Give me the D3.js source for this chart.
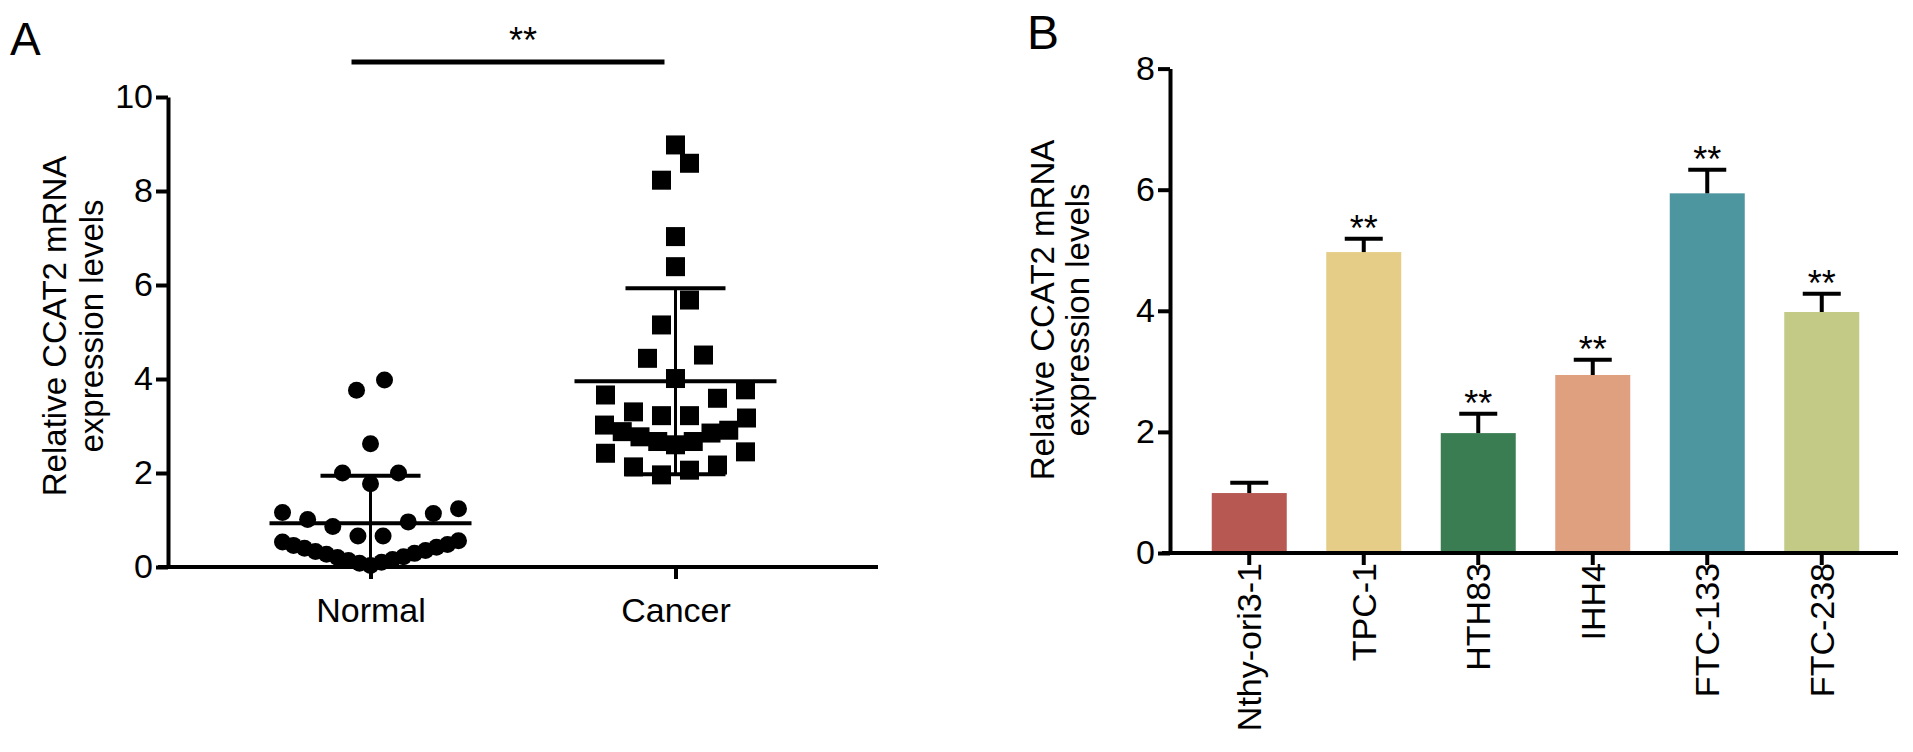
<!DOCTYPE html>
<html>
<head>
<meta charset="utf-8">
<script src="https://cdn.jsdelivr.net/npm/d3@7"></script>
<style>
  body { margin: 0; background: #fff; }
  svg { display: block; font-family: "Liberation Sans", Arial, Helvetica, sans-serif; }
</style>
</head>
<body>
<svg id="drawing_region"></svg>
<script>
// ---- panel A: individual samples (relative CCAT2 expression)
const groupNames = ["Normal", "Cancer"];
const normalValues = [0.03, 0.08, 0.10, 0.14, 0.16, 0.20, 0.22, 0.27, 0.29, 0.33, 0.35, 0.40, 0.42, 0.46, 0.48, 0.53, 0.56,
                      0.66, 0.66, 0.86, 0.96, 1.01, 1.14, 1.16, 1.24,
                      1.77, 2.00, 2.00, 2.62, 3.76, 3.98];
const cancerValues = [1.96, 2.06, 2.13, 2.17, 2.42, 2.45,
                      2.60, 2.67, 2.67, 2.77, 2.85, 2.88, 2.91, 3.02, 3.17,
                      3.22, 3.22, 3.30, 3.59, 3.66, 3.77,
                      4.01, 4.44, 4.51, 5.15, 5.68, 6.39, 7.03, 8.23, 8.59, 8.98];
const ticksA = [0, 2, 4, 6, 8, 10];

// ---- panel B: cell lines, mean + error
const cellLines = ["Nthy-ori3-1", "TPC-1", "HTH83", "IHH4", "FTC-133", "FTC-238"];
const cellMeans = [0.99, 4.97, 1.98, 2.94, 5.94, 3.98];
const cellErrors = [0.17, 0.22, 0.32, 0.25, 0.39, 0.30];
const cellMarks = ["", "**", "**", "**", "**", "**"];
const ticksB = [0, 2, 4, 6, 8];

const cellColors = ["#b75852", "#e5cd87", "#3a7d52", "#dfa07f", "#4d96a0", "#c2ca86"];

const W = 1913, H = 752;
const FONT = 34;

const svg = d3.select("#drawing_region")
    .attr("width", W)
    .attr("height", H);

// prism-like scatter: values are grouped into rows, each row spread sideways
function spreadRows(values, rowSpan, spacing, maxHalf) {
    const sorted = values.slice().sort(d3.ascending);
    const rows = [];
    sorted.forEach(v => {
        const row = rows[rows.length - 1];
        if (row && v - row[0] <= rowSpan) row.push(v);
        else rows.push([v]);
    });
    const out = [];
    rows.forEach(row => {
        const n = row.length;
        const step = n > 1 ? Math.min(spacing, 2 * maxHalf / (n - 1)) : 0;
        row.forEach((v, i) => {
            let slot;
            if (n % 2) {
                const k = Math.ceil(i / 2);
                slot = i === 0 ? 0 : (i % 2 ? -k : k);
            } else {
                const k = Math.floor(i / 2) + 0.5;
                slot = i % 2 ? k : -k;
            }
            out.push({ value: v, dx: slot * step });
        });
    });
    return out;
}

function styleAxis(g) {
    g.selectAll("path, line").attr("stroke", "#000").attr("stroke-width", 4);
    g.selectAll("text").attr("font-size", FONT).attr("fill", "#000")
        .attr("font-family", '"Liberation Sans", Arial, sans-serif');
}

function axisTitle(x1, x2, cy) {
    const g = svg.append("g");
    [["Relative CCAT2 mRNA", x1], ["expression levels", x2]].forEach(([t, x]) => {
        g.append("text")
            .attr("transform", `translate(${x},${cy}) rotate(-90)`)
            .attr("text-anchor", "middle")
            .attr("font-size", 33)
            .text(t);
    });
}

// ================= panel A =================
{
    const xA = d3.scalePoint().domain(groupNames).range([168, 878]).padding(0.664);
    const yA = d3.scaleLinear().domain([0, 10]).range([567, 97]).clamp(true);

    const rowSpan = yA.invert(yA(0) - 28);
    const groups = [
        { name: "Normal", values: normalValues, pts: spreadRows(normalValues, rowSpan, 28, 88) },
        { name: "Cancer", values: cancerValues, pts: spreadRows(cancerValues, rowSpan, 28, 71) }
    ];

    const yaxis = svg.append("g")
        .attr("transform", `translate(${xA.range()[0]},0)`)
        .call(d3.axisLeft(yA).tickValues(ticksA).tickSize(12).tickSizeOuter(0).tickPadding(3));
    styleAxis(yaxis);

    const xaxis = svg.append("g")
        .attr("transform", `translate(0,${yA(0)})`)
        .call(d3.axisBottom(xA).tickSize(12).tickSizeOuter(0).tickPadding(19));
    styleAxis(xaxis);
    xaxis.select(".domain").attr("d", `M${xA.range()[0] - 10},0H${xA.range()[1]}`);

    // normal: circles
    svg.append("g").selectAll("circle")
        .data(groups[0].pts)
        .join("circle")
        .attr("cx", d => xA("Normal") + d.dx)
        .attr("cy", d => yA(d.value))
        .attr("r", 8.5)
        .attr("fill", "#000");

    // cancer: squares
    const sq = 19;
    svg.append("g").selectAll("rect")
        .data(groups[1].pts)
        .join("rect")
        .attr("x", d => xA("Cancer") + d.dx - sq / 2)
        .attr("y", d => yA(d.value) - sq / 2)
        .attr("width", sq)
        .attr("height", sq)
        .attr("fill", "#000");

    // mean with SD
    groups.forEach(g => {
        const m = d3.mean(g.values), s = d3.deviation(g.values);
        const cx = xA(g.name);
        const lines = svg.append("g").attr("stroke", "#000");
        lines.append("line")
            .attr("x1", cx - 101).attr("x2", cx + 101)
            .attr("y1", yA(m)).attr("y2", yA(m))
            .attr("stroke-width", 4);
        lines.append("line")
            .attr("x1", cx).attr("x2", cx)
            .attr("y1", yA(m - s)).attr("y2", yA(m + s))
            .attr("stroke-width", 3);
        [m + s, m - s].forEach(v => {
            lines.append("line")
                .attr("x1", cx - 50).attr("x2", cx + 50)
                .attr("y1", yA(v)).attr("y2", yA(v))
                .attr("stroke-width", 4);
        });
    });

    // significance bar
    const yBar = yA(10) - 35;
    svg.append("line")
        .attr("x1", xA("Normal") - 19).attr("x2", xA("Cancer") - 11)
        .attr("y1", yBar).attr("y2", yBar)
        .attr("stroke", "#000").attr("stroke-width", 5);
    svg.append("text")
        .attr("x", (xA("Normal") + xA("Cancer")) / 2)
        .attr("y", yBar - 9)
        .attr("text-anchor", "middle")
        .attr("font-size", 36)
        .text("**");

    axisTitle(66, 103, 326);

    svg.append("text").attr("x", 10).attr("y", 55).attr("font-size", 46).text("A");
}

// ================= panel B =================
{
    const xB = d3.scaleBand().domain(cellLines).range([1192, 1879])
        .paddingInner(0.345).paddingOuter(0.1725);
    const yB = d3.scaleLinear().domain([0, 8]).range([553, 68.6]);
    const y0 = 1170;

    const rows = cellLines.map((c, i) => ({
        name: c, mean: cellMeans[i], err: cellErrors[i], mark: cellMarks[i], color: cellColors[i]
    }));

    svg.append("g").selectAll("rect")
        .data(rows)
        .join("rect")
        .attr("x", d => xB(d.name))
        .attr("y", d => yB(d.mean))
        .attr("width", xB.bandwidth())
        .attr("height", d => yB(0) - yB(d.mean))
        .attr("fill", d => d.color);

    const err = svg.append("g").attr("stroke", "#000").attr("stroke-width", 4);
    err.selectAll("line.v")
        .data(rows)
        .join("line")
        .attr("class", "v")
        .attr("x1", d => xB(d.name) + xB.bandwidth() / 2)
        .attr("x2", d => xB(d.name) + xB.bandwidth() / 2)
        .attr("y1", d => yB(d.mean))
        .attr("y2", d => yB(d.mean + d.err));
    err.selectAll("line.cap")
        .data(rows)
        .join("line")
        .attr("class", "cap")
        .attr("x1", d => xB(d.name) + xB.bandwidth() / 2 - 19)
        .attr("x2", d => xB(d.name) + xB.bandwidth() / 2 + 19)
        .attr("y1", d => yB(d.mean + d.err))
        .attr("y2", d => yB(d.mean + d.err));

    svg.append("g").selectAll("text")
        .data(rows)
        .join("text")
        .attr("x", d => xB(d.name) + xB.bandwidth() / 2)
        .attr("y", d => yB(d.mean + d.err) + 2)
        .attr("text-anchor", "middle")
        .attr("font-size", 36)
        .text(d => d.mark);

    const yaxis = svg.append("g")
        .attr("transform", `translate(${y0},0)`)
        .call(d3.axisLeft(yB).tickValues(ticksB).tickSize(12).tickSizeOuter(0).tickPadding(3));
    styleAxis(yaxis);

    const xaxis = svg.append("g")
        .attr("transform", `translate(0,${yB(0)})`)
        .call(d3.axisBottom(xB).tickSize(12).tickSizeOuter(0));
    styleAxis(xaxis);
    xaxis.select(".domain").attr("d", `M${y0 - 8},0H1898`);
    xaxis.selectAll(".tick text")
        .attr("transform", "rotate(-90)")
        .attr("text-anchor", "end")
        .attr("x", -10)
        .attr("y", 0)
        .attr("dy", "0.35em");

    axisTitle(1054, 1089, 310);

    svg.append("text").attr("x", 1027).attr("y", 49).attr("font-size", 48).text("B");
}
</script>
</body>
</html>
